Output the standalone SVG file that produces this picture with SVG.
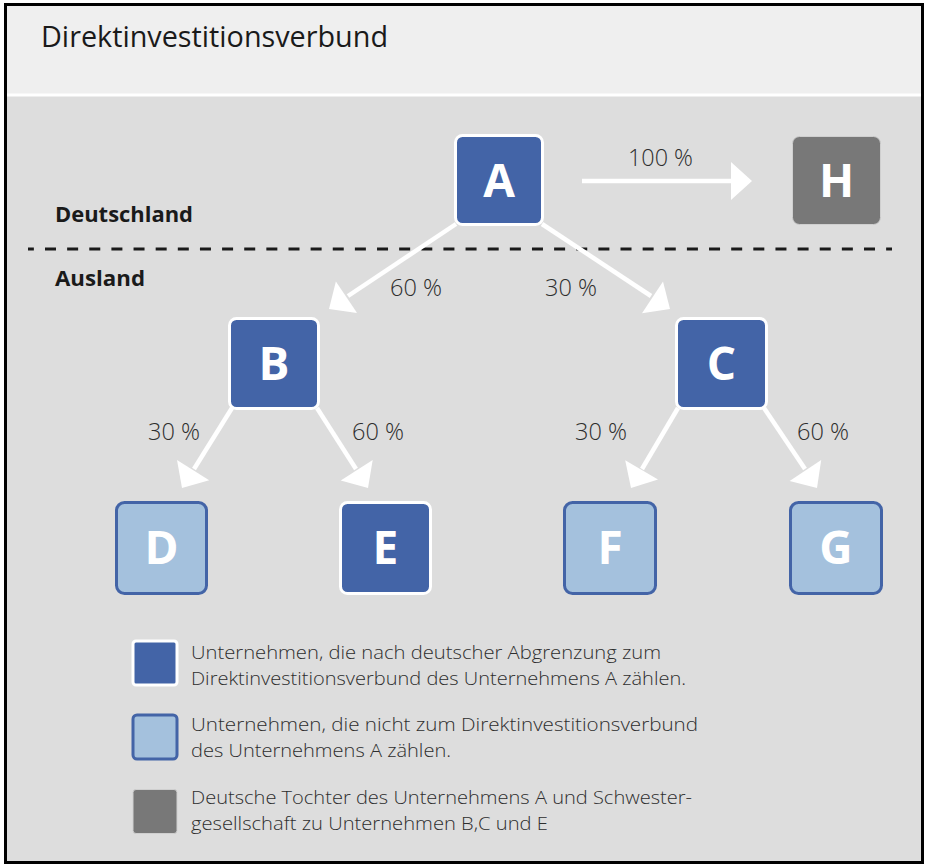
<svg xmlns="http://www.w3.org/2000/svg" width="929" height="867" viewBox="0 0 929 867">
<style>
  .lbl { font-family: "Open Sans", "Noto Sans", "Liberation Sans", sans-serif; font-size: 23px; font-weight: 300; fill: #2e2e2e; }
  .reg { font-family: "Open Sans", "Noto Sans", "Liberation Sans", sans-serif; font-size: 21.5px; font-weight: bold; fill: #1a1a1a; }
  .leg { font-family: "Open Sans", "Noto Sans", "Liberation Sans", sans-serif; font-size: 19px; font-weight: 300; fill: #2e2e2e; }
  .title { font-family: "Open Sans", "Noto Sans", "Liberation Sans", sans-serif; font-size: 28.5px; fill: #1a1a1a; }
  .letter { font-family: "Open Sans", "Noto Sans", "Liberation Sans", sans-serif; font-size: 46px; font-weight: bold; fill: #ffffff; text-anchor: middle; }
  .dark { fill: #4364a7; stroke: #ffffff; stroke-width: 3; }
  .light { fill: #a4c1dd; stroke: #4364a7; stroke-width: 3; }
  .gray { fill: #787878; stroke: #cfcfcf; stroke-width: 1; }
  .conn line { stroke: #ffffff; stroke-width: 4.5; }
  .conn polygon { fill: #ffffff; }
</style>
<rect x="0" y="0" width="929" height="867" fill="#ffffff"/>
<rect x="5.5" y="4.5" width="917" height="858" fill="#dddddd" stroke="#000000" stroke-width="3"/>
<rect x="7" y="6" width="914" height="88" fill="#efefef"/>
<line x1="7" y1="95" x2="921" y2="95" stroke="#ffffff" stroke-width="3"/>
<text class="title" x="41" y="47" textLength="347" lengthAdjust="spacingAndGlyphs">Direktinvestitionsverbund</text>

<text class="reg" x="55" y="222" textLength="138" lengthAdjust="spacingAndGlyphs">Deutschland</text>
<text class="reg" x="55" y="286" textLength="90" lengthAdjust="spacingAndGlyphs">Ausland</text>
<line x1="28" y1="249" x2="892" y2="249" stroke="#1a1a1a" stroke-width="3" stroke-dasharray="11 11.135" stroke-dashoffset="5.135"/>

<g id="connectors" class="conn">
  <line x1="582" y1="181" x2="733" y2="181"/>
  <polygon points="752,181 731,162 731,200"/>
  <line x1="456" y1="224" x2="348" y2="296"/>
  <polygon points="329,309 335.9,281.5 357.1,313.1"/>
  <line x1="542" y1="224" x2="651" y2="296"/>
  <polygon points="670,309 642,313.2 663,281.6"/>
  <line x1="232" y1="408" x2="194" y2="469"/>
  <polygon points="182,488 177,460.1 209.2,480.3"/>
  <line x1="317" y1="408" x2="356" y2="469"/>
  <polygon points="368,488 340.7,480.5 372.7,460.1"/>
  <line x1="678" y1="408" x2="642" y2="469"/>
  <polygon points="631,488 625.2,460.3 658,479.5"/>
  <line x1="764" y1="408" x2="805" y2="469"/>
  <polygon points="817,488 789.6,481 821.2,460"/>
</g>

<g id="edge-labels">
  <text class="lbl" x="628" y="166" textLength="65" lengthAdjust="spacingAndGlyphs">100 %</text>
  <text class="lbl" x="390" y="296" textLength="52" lengthAdjust="spacingAndGlyphs">60 %</text>
  <text class="lbl" x="545" y="296" textLength="52" lengthAdjust="spacingAndGlyphs">30 %</text>
  <text class="lbl" x="148" y="440" textLength="52" lengthAdjust="spacingAndGlyphs">30 %</text>
  <text class="lbl" x="352" y="440" textLength="52" lengthAdjust="spacingAndGlyphs">60 %</text>
  <text class="lbl" x="575" y="440" textLength="52" lengthAdjust="spacingAndGlyphs">30 %</text>
  <text class="lbl" x="797" y="440" textLength="52" lengthAdjust="spacingAndGlyphs">60 %</text>
</g>

<g id="node-A"><rect class="dark" x="455.5" y="135.5" width="87" height="89" rx="7"/><text class="letter" x="499" y="197">A</text></g>
<g id="node-H"><rect class="gray" x="792.5" y="136.5" width="88" height="88" rx="7"/><text class="letter" x="836.5" y="197">H</text></g>
<g id="node-B"><rect class="dark" x="229.5" y="318.5" width="89" height="90" rx="7"/><text class="letter" x="274" y="380">B</text></g>
<g id="node-C"><rect class="dark" x="676.5" y="318.5" width="90" height="90" rx="7"/><text class="letter" x="721.5" y="380">C</text></g>
<g id="node-D"><rect class="light" x="116.5" y="502.5" width="90" height="91" rx="8"/><text class="letter" x="161.5" y="564">D</text></g>
<g id="node-E"><rect class="dark" x="340.5" y="502.5" width="90" height="91" rx="7"/><text class="letter" x="385.5" y="564">E</text></g>
<g id="node-F"><rect class="light" x="564.5" y="502.5" width="91" height="91" rx="8"/><text class="letter" x="610" y="564">F</text></g>
<g id="node-G"><rect class="light" x="790.5" y="502.5" width="91" height="91" rx="8"/><text class="letter" x="836" y="564">G</text></g>

<g id="legend">
  <rect class="dark" x="133" y="641" width="44" height="44" rx="3" stroke-width="2.5"/>
  <text class="leg" x="191" y="659" textLength="470" lengthAdjust="spacingAndGlyphs">Unternehmen, die nach deutscher Abgrenzung zum</text>
  <text class="leg" x="191" y="685" textLength="495" lengthAdjust="spacingAndGlyphs">Direktinvestitionsverbund des Unternehmens A zählen.</text>
  <rect class="light" x="133" y="715" width="44" height="44" rx="4" stroke-width="2.5"/>
  <text class="leg" x="191" y="731" textLength="507" lengthAdjust="spacingAndGlyphs">Unternehmen, die nicht zum Direktinvestitionsverbund</text>
  <text class="leg" x="191" y="757" textLength="260" lengthAdjust="spacingAndGlyphs">des Unternehmens A zählen.</text>
  <rect class="gray" x="133" y="789.5" width="44" height="44" rx="3"/>
  <text class="leg" x="191" y="804" textLength="501" lengthAdjust="spacingAndGlyphs">Deutsche Tochter des Unternehmens A und Schwester-</text>
  <text class="leg" x="191" y="830" textLength="357" lengthAdjust="spacingAndGlyphs">gesellschaft zu Unternehmen B,C und E</text>
</g>
</svg>
